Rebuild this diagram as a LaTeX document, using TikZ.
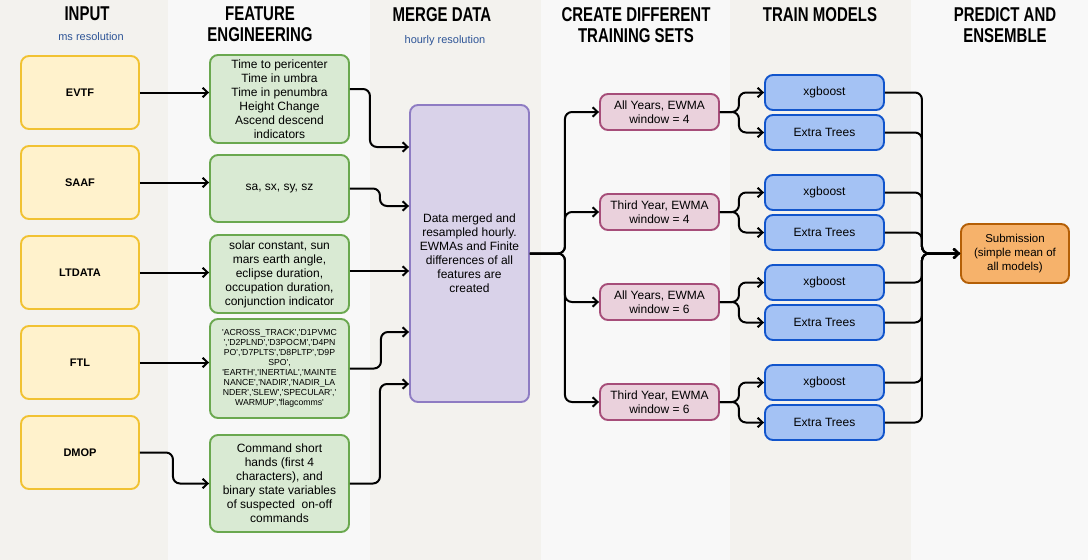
\documentclass[tikz,border=0pt]{standalone}
\usepackage{fontspec}
\setmainfont{Liberation Sans}
\newfontfamily\hdrfont{Liberation Sans}[FakeStretch=0.75]
\usetikzlibrary{arrows.meta,calc}
\definecolor{bgA}{HTML}{F3F2EE}
\definecolor{bgB}{HTML}{F8F8F8}
\definecolor{yF}{HTML}{FFF2CC}\definecolor{yD}{HTML}{F1C232}
\definecolor{gF}{HTML}{D9EAD3}\definecolor{gD}{HTML}{6AA84F}
\definecolor{pF}{HTML}{D9D2E9}\definecolor{pD}{HTML}{8E7CC3}
\definecolor{rF}{HTML}{EAD1DC}\definecolor{rD}{HTML}{A64D79}
\definecolor{bF}{HTML}{A4C2F4}\definecolor{bD}{HTML}{1155CC}
\definecolor{oF}{HTML}{F6B26B}\definecolor{oD}{HTML}{B45F06}
\definecolor{subc}{HTML}{2E5597}
\newcommand{\qq}{\textquotesingle}
\begin{document}
\begin{tikzpicture}[x=1pt,y=-1pt,
 box/.style={rounded corners=8pt,line width=1.9pt,align=center,inner sep=0pt,text=black,font=\fontsize{12}{14}\selectfont},
 inbox/.style={box,fill=yF,draw=yD,minimum width=118pt,minimum height=73pt,font=\fontsize{11}{13}\selectfont\bfseries},
 featbox/.style={box,fill=gF,draw=gD,minimum width=139pt},
 mergebox/.style={box,fill=pF,draw=pD,minimum width=119pt,minimum height=297pt},
 setbox/.style={box,fill=rF,draw=rD,minimum width=119pt,minimum height=36pt},
 modelbox/.style={box,fill=bF,draw=bD,minimum width=119pt,minimum height=35pt},
 subbox/.style={box,fill=oF,draw=oD,minimum width=108pt,minimum height=59pt},
 hdr/.style={anchor=north,align=center,inner sep=0pt,font=\hdrfont\bfseries\fontsize{20}{21}\selectfont},
 subhdr/.style={anchor=base,inner sep=0pt,text=subc,font=\fontsize{11}{13}\selectfont},
 conn/.style={draw,line width=2pt,rounded corners=7pt,-{Straight Barb[length=5pt,width=9.5pt]}},
]
\useasboundingbox (0,0) rectangle (1088,560);
% column backgrounds
\fill[bgA] (0,0) rectangle (168,560);
\fill[bgB] (168,0) rectangle (370,560);
\fill[bgA] (370,0) rectangle (541,560);
\fill[bgB] (541,0) rectangle (730,560);
\fill[bgA] (730,0) rectangle (911,560);
\fill[bgB] (911,0) rectangle (1088,560);

% headers
\node[hdr] (h1) at (87,7) {INPUT};
\node[subhdr] (s1) at (91,40.5) {ms resolution};
\node[hdr] (h2) at (260,7) {FEATURE\\ENGINEERING};
\node[hdr] (h3) at (442,7) {MERGE DATA};
\node[subhdr] (s3) at (445,43.5) {hourly resolution};
\node[hdr] (h4) at (636,7) {CREATE DIFFERENT\\TRAINING SETS};
\node[hdr] (h5) at (820,7) {TRAIN MODELS};
\node[hdr] (h6) at (1005,7) {PREDICT AND\\ENSEMBLE};

% input boxes
\node[inbox] (i1) at (80,92.5) {EVTF};
\node[inbox] (i2) at (80,182.5) {SAAF};
\node[inbox] (i3) at (80,272.5) {LTDATA};
\node[inbox] (i4) at (80,362.5) {FTL};
\node[inbox] (i5) at (80,452.5) {DMOP};

% feature boxes
\node[featbox,minimum height=88pt] (f1) at (279.5,99) {Time to pericenter\\Time in umbra\\Time in penumbra\\Height Change\\Ascend descend\\indicators};
\node[featbox,minimum height=67pt] (f2) at (279.5,188.5) {sa, sx, sy, sz};
\node[featbox,minimum height=78pt] (f3) at (279.5,274) {solar constant, sun\\mars earth angle,\\eclipse duration,\\occupation duration,\\conjunction indicator};
\node[featbox,minimum height=99pt,font=\fontsize{8.7}{10}\selectfont] (f4) at (279.5,368.5) {\qq ACROSS\_TRACK\qq,\qq D1PVMC\\\qq,\qq D2PLND\qq,\qq D3POCM\qq,\qq D4PN\\PO\qq,\qq D7PLTS\qq,\qq D8PLTP\qq,\qq D9P\\SPO\qq,\\\qq EARTH\qq,\qq INERTIAL\qq,\qq MAINTE\\NANCE\qq,\qq NADIR\qq,\qq NADIR\_LA\\NDER\qq,\qq SLEW\qq,\qq SPECULAR\qq,\qq\\WARMUP\qq,\qq flagcomms\qq};
\node[featbox,minimum height=97pt] (f5) at (279.5,483.5) {Command short\\hands (first 4\\characters), and\\binary state variables\\of suspected\ \ on-off\\commands};

% merge
\node[mergebox] (m) at (469.5,253.5) {Data merged and\\resampled hourly.\\EWMAs and Finite\\differences of all\\features are\\created};

% training sets
\node[setbox] (p1) at (659.5,112) {All Years, EWMA\\window = 4};
\node[setbox] (p2) at (659.5,212) {Third Year, EWMA\\window = 4};
\node[setbox] (p3) at (659.5,302) {All Years, EWMA\\window = 6};
\node[setbox] (p4) at (659.5,402) {Third Year, EWMA\\window = 6};

% models
\node[modelbox] (b1) at (824.5,92.5) {xgboost};
\node[modelbox] (b2) at (824.5,132.5) {Extra Trees};
\node[modelbox] (b3) at (824.5,192.5) {xgboost};
\node[modelbox] (b4) at (824.5,232.5) {Extra Trees};
\node[modelbox] (b5) at (824.5,282.5) {xgboost};
\node[modelbox] (b6) at (824.5,322.5) {Extra Trees};
\node[modelbox] (b7) at (824.5,382.5) {xgboost};
\node[modelbox] (b8) at (824.5,422.5) {Extra Trees};

% submission
\node[subbox,font=\fontsize{11.5}{14}\selectfont] (sub) at (1015,253.5) {Submission\\(simple mean of\\all models)};

% input -> features
\draw[conn] (i1.east) -- (i1.east -| f1.west);
\draw[conn] (i2.east) -- (i2.east -| f2.west);
\draw[conn] (i3.east) -- (i3.east -| f3.west);
\draw[conn] (i4.east) -- (i4.east -| f4.west);
\draw[conn] (i5.east) -- ++(33,0) |- (f5.west);

% features -> merge
\draw[conn] ($(f1.east)+(0,-10)$) -- ++(20,0) |- ($(m.west)+(0,-106.5)$);
\draw[conn] (f2.east) -- ++(30,0) |- ($(m.west)+(0,-47.5)$);
\draw[conn] ($(f3.east)+(0,-3)$) -- ($(m.west)+(0,17.5)$);
\draw[conn] (f4.east) -- ++(31,0) |- ($(m.west)+(0,78.5)$);
\draw[conn] (f5.east) -- ++(30,0) |- ($(m.west)+(0,130.5)$);

% merge -> training sets
\foreach \p in {p1,p2,p3,p4}
  \draw[conn] (m.east) -- ++(35,0) |- (\p.west);

% training sets -> models
\draw[conn] (p1.east) -- ++(19,0) |- (b1.west);
\draw[conn] (p1.east) -- ++(19,0) |- (b2.west);
\draw[conn] (p2.east) -- ++(19,0) |- (b3.west);
\draw[conn] (p2.east) -- ++(19,0) |- (b4.west);
\draw[conn] (p3.east) -- ++(19,0) |- (b5.west);
\draw[conn] (p3.east) -- ++(19,0) |- (b6.west);
\draw[conn] (p4.east) -- ++(19,0) |- (b7.west);
\draw[conn] (p4.east) -- ++(19,0) |- (b8.west);

% models -> submission
\foreach \b in {b1,b2,b3,b4,b5,b6,b7,b8}
  \draw[conn] (\b.east) -- ++(37,0) |- (sub.west);
\end{tikzpicture}
\end{document}
